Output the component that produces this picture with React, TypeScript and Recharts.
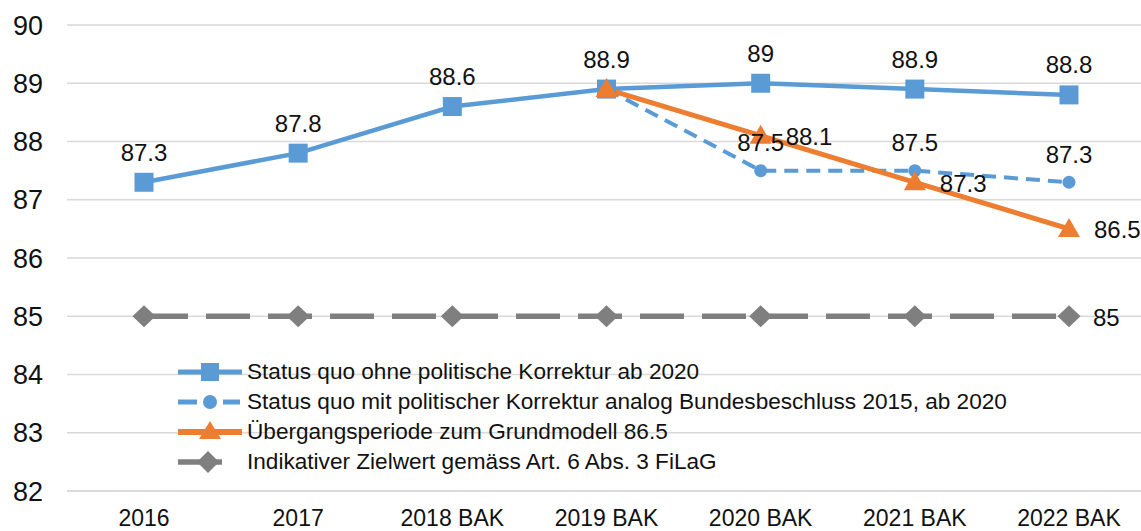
import React from 'react';
import { LineChart, Line, XAxis, YAxis, CartesianGrid, Legend } from 'recharts';

const categories = ['2016', '2017', '2018 BAK', '2019 BAK', '2020 BAK', '2021 BAK', '2022 BAK'];
const statusQuo = [87.3, 87.8, 88.6, 88.9, 89, 88.9, 88.8];
const mitKorrektur = [null, null, null, 88.9, 87.5, 87.5, 87.3];
const uebergang = [null, null, null, 88.9, 88.1, 87.3, 86.5];
const zielwert = [85, 85, 85, 85, 85, 85, 85];
const yTicks = [82, 83, 84, 85, 86, 87, 88, 89, 90];
const seriesNames = [
  'Status quo ohne politische Korrektur ab 2020',
  'Status quo mit politischer Korrektur analog Bundesbeschluss 2015, ab 2020',
  'Übergangsperiode zum Grundmodell 86.5',
  'Indikativer Zielwert gemäss Art. 6 Abs. 3 FiLaG',
];

const BLUE = '#5B9BD5';
const ORANGE = '#ED7D31';
const GRAY = '#7F7F7F';
const GRID = '#D9D9D9';
const FONT = '"Liberation Sans", Arial, Helvetica, sans-serif';

const data = categories.map((c, i) => ({
  cat: c,
  statusQuo: statusQuo[i],
  mitKorrektur: mitKorrektur[i],
  uebergang: uebergang[i],
  zielwert: zielwert[i],
}));

const firstIdx = (arr: (number | null)[]) => arr.findIndex((v) => v != null);

const empty = (k: string) => <g key={k} />;

const SquareDot = (p: any) => {
  const { cx, cy, index } = p;
  if (cx == null || cy == null) return empty(`sq-${index}`);
  return <rect key={`sq-${index}`} x={cx - 9.5} y={cy - 9.5} width={19} height={19} fill={BLUE} />;
};
const CircleDot = (p: any) => {
  const { cx, cy, index } = p;
  if (cx == null || cy == null) return empty(`ci-${index}`);
  return <circle key={`ci-${index}`} cx={cx} cy={cy} r={6.5} fill={BLUE} />;
};
const TriangleDot = (p: any) => {
  const { cx, cy, index } = p;
  if (cx == null || cy == null) return empty(`tr-${index}`);
  return (
    <polygon
      key={`tr-${index}`}
      points={`${cx},${cy - 11} ${cx + 11},${cy + 8} ${cx - 11},${cy + 8}`}
      fill={ORANGE}
    />
  );
};
const DiamondDot = (p: any) => {
  const { cx, cy, index } = p;
  if (cx == null || cy == null) return empty(`di-${index}`);
  return (
    <polygon
      key={`di-${index}`}
      points={`${cx},${cy - 11} ${cx + 11.5},${cy} ${cx},${cy + 11} ${cx - 11.5},${cy}`}
      fill={GRAY}
    />
  );
};

const labelStyle = { fontFamily: FONT, fontSize: 24, fill: '#111' };

const aboveLabel = (offset: number, skip: number) => (p: any) => {
  const { x, y, value, index } = p;
  if (value == null || x == null || y == null || index <= skip) return empty(`la-${index}-${offset}`);
  return (
    <text key={`la-${index}-${offset}`} x={x} y={y - offset} dy="0.355em" textAnchor="middle" {...labelStyle}>
      {value}
    </text>
  );
};

const rightLabel = (offset: number, onlyIdx: number | null, skip: number) => (p: any) => {
  const { x, y, value, index } = p;
  if (value == null || x == null || y == null) return empty(`lr-${index}-${offset}`);
  if (onlyIdx != null && index !== onlyIdx) return empty(`lr-${index}-${offset}`);
  if (index <= skip) return empty(`lr-${index}-${offset}`);
  return (
    <text key={`lr-${index}-${offset}`} x={x + offset} y={y + 1} dy="0.355em" textAnchor="start" {...labelStyle}>
      {value}
    </text>
  );
};

const LegendIcon = ({ i }: { i: number }) => {
  if (i === 0)
    return (
      <svg width={64} height={30}>
        <line x1={0} y1={15} x2={64} y2={15} stroke={BLUE} strokeWidth={5} />
        <rect x={23} y={6} width={18} height={18} fill={BLUE} />
      </svg>
    );
  if (i === 1)
    return (
      <svg width={64} height={30}>
        <line x1={0} y1={15} x2={19} y2={15} stroke={BLUE} strokeWidth={5} />
        <line x1={45} y1={15} x2={62} y2={15} stroke={BLUE} strokeWidth={5} />
        <circle cx={32} cy={15} r={7} fill={BLUE} />
      </svg>
    );
  if (i === 2)
    return (
      <svg width={64} height={30}>
        <line x1={0} y1={15} x2={64} y2={15} stroke={ORANGE} strokeWidth={6} />
        <polygon points="32,4 43,22 21,22" fill={ORANGE} />
      </svg>
    );
  return (
    <svg width={64} height={30}>
      <line x1={0} y1={15} x2={44} y2={15} stroke={GRAY} strokeWidth={5.5} />
      <polygon points="30,4 41,15 30,26 19,15" fill={GRAY} />
    </svg>
  );
};

const renderLegend = () => (
  <div style={{ fontFamily: FONT, fontSize: 22.6, color: '#111' }}>
    {seriesNames.map((n, i) => (
      <div key={n} style={{ display: 'flex', alignItems: 'center', height: 30, whiteSpace: 'nowrap' }}>
        <LegendIcon i={i} />
        <span style={{ marginLeft: 5, lineHeight: '30px' }}>{n}</span>
      </div>
    ))}
  </div>
);

export default function App() {
  const skipK = firstIdx(mitKorrektur);
  const skipU = firstIdx(uebergang);
  return (
    <div
      style={{
        position: 'absolute',
        left: 0,
        top: 0,
        width: 1141,
        height: 531,
        overflow: 'hidden',
        background: '#fff',
      }}
    >
      <LineChart width={1150} height={531} data={data} margin={{ top: 25, right: 4, left: 0, bottom: 0 }}>
        <CartesianGrid vertical={false} stroke={GRID} strokeWidth={1.6} />
        <XAxis
          dataKey="cat"
          height={40}
          interval={0}
          padding={{ left: 77, right: 77 }}
          tickLine={false}
          axisLine={{ stroke: GRID, strokeWidth: 1.6 }}
          tickSize={0}
          tickMargin={19}
          tick={{ fontFamily: FONT, fontSize: 23, fill: '#111' }}
        />
        <YAxis
          width={67}
          domain={[82, 90]}
          ticks={yTicks}
          interval={0}
          axisLine={false}
          tickLine={false}
          tickSize={0}
          tickMargin={24}
          tick={{ fontFamily: FONT, fontSize: 27, fill: '#111' }}
        />
        <Legend
          layout="horizontal"
          verticalAlign="middle"
          align="center"
          content={renderLegend}
          wrapperStyle={{ position: 'absolute', left: 178, top: 357, width: 900 }}
        />
        <Line
          dataKey="zielwert"
          stroke={GRAY}
          strokeWidth={5.5}
          strokeDasharray="44 18"
          dot={DiamondDot}
          activeDot={false}
          isAnimationActive={false}
          label={rightLabel(24, zielwert.length - 1, -1)}
        />
        <Line
          dataKey="statusQuo"
          stroke={BLUE}
          strokeWidth={4.5}
          dot={SquareDot}
          activeDot={false}
          isAnimationActive={false}
          label={aboveLabel(30, -1)}
        />
        <Line
          dataKey="mitKorrektur"
          stroke={BLUE}
          strokeWidth={4}
          strokeDasharray="14 8"
          dot={CircleDot}
          activeDot={false}
          isAnimationActive={false}
          label={aboveLabel(28, skipK)}
        />
        <Line
          dataKey="uebergang"
          stroke={ORANGE}
          strokeWidth={5}
          dot={TriangleDot}
          activeDot={false}
          isAnimationActive={false}
          label={rightLabel(25, null, skipU)}
        />
      </LineChart>
    </div>
  );
}
